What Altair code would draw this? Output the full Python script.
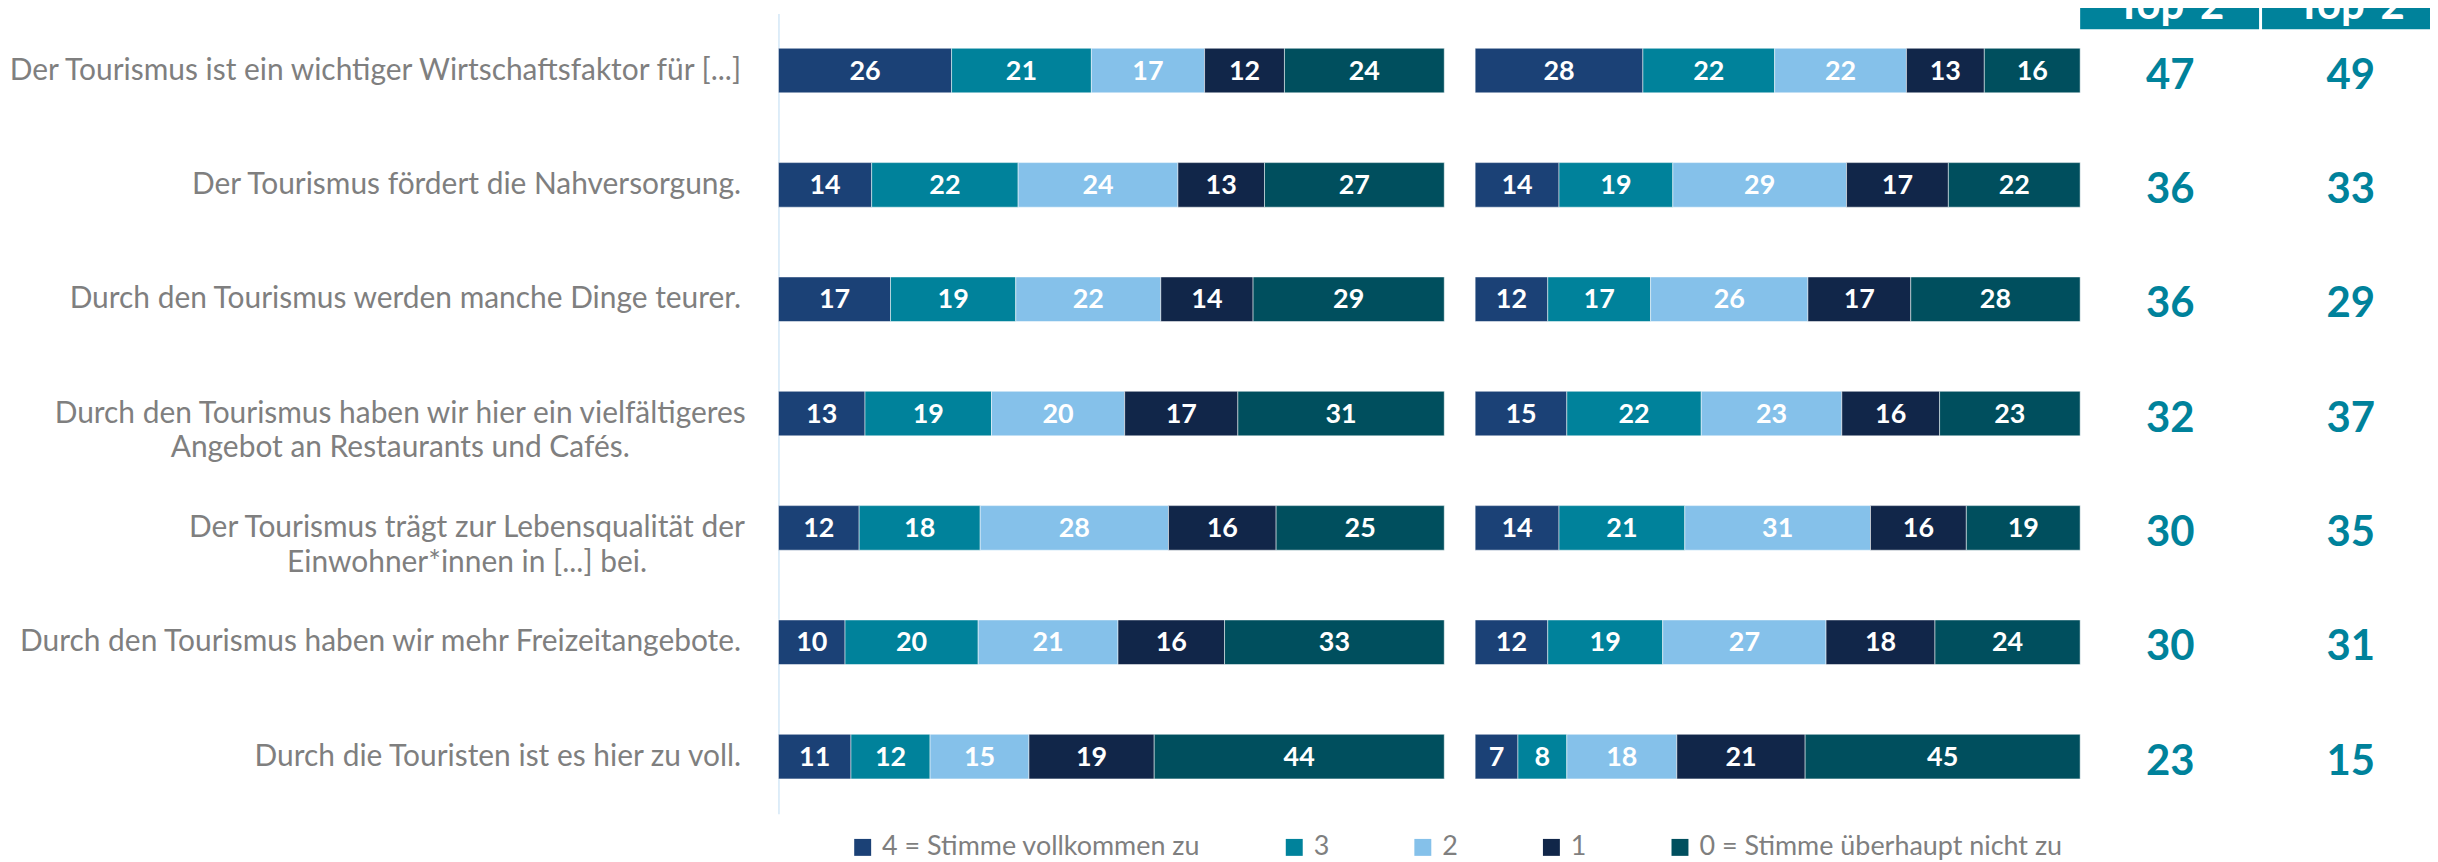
import altair as alt
import pandas as pd

statements = [
    "Der Tourismus ist ein wichtiger Wirtschaftsfaktor für [...]",
    "Der Tourismus fördert die Nahversorgung.",
    "Durch den Tourismus werden manche Dinge teurer.",
    "Durch den Tourismus haben wir hier ein vielfältigeres|Angebot an Restaurants und Cafés.",
    "Der Tourismus trägt zur Lebensqualität der|Einwohner*innen in [...] bei.",
    "Durch den Tourismus haben wir mehr Freizeitangebote.",
    "Durch die Touristen ist es hier zu voll.",
]
levels = ["4 = Stimme vollkommen zu", "3", "2", "1", "0 = Stimme überhaupt nicht zu"]
level_colors = ["#1B4176", "#00829B", "#85C1EA", "#112649", "#004F5E"]

wave1 = [
    [26, 21, 17, 12, 24],
    [14, 22, 24, 13, 27],
    [17, 19, 22, 14, 29],
    [13, 19, 20, 17, 31],
    [12, 18, 28, 16, 25],
    [10, 20, 21, 16, 33],
    [11, 12, 15, 19, 44],
]
wave2 = [
    [28, 22, 22, 13, 16],
    [14, 19, 29, 17, 22],
    [12, 17, 26, 17, 28],
    [15, 22, 23, 16, 23],
    [14, 21, 31, 16, 19],
    [12, 19, 27, 18, 24],
    [7, 8, 18, 21, 45],
]
top2_wave1 = [47, 36, 36, 32, 30, 30, 23]
top2_wave2 = [49, 33, 29, 37, 35, 31, 15]
top2_columns = ["Welle 1", "Welle 2"]
header_label = "Top-2"

FONT = "Lato"
TEAL = "#00829B"
GREY = "#7F7F7F"


def long_df(values):
    rows = []
    for s, vals in zip(statements, values):
        for i, (lvl, v) in enumerate(zip(levels, vals)):
            rows.append({"statement": s, "level": lvl, "order": i, "value": v})
    return pd.DataFrame(rows)


df1 = long_df(wave1)
df2 = long_df(wave2)
top2_df = pd.DataFrame(
    [{"statement": s, "column": top2_columns[0], "value": v} for s, v in zip(statements, top2_wave1)]
    + [{"statement": s, "column": top2_columns[1], "value": v} for s, v in zip(statements, top2_wave2)]
)
header_df = pd.DataFrame({"column": top2_columns, "label": [header_label] * len(top2_columns)})

y_scale = alt.Scale(domain=statements, range=[4, 807], paddingInner=0.61, paddingOuter=0.305)

row4 = statements[3]
row5 = statements[4]

axis_common = dict(
    title=None, orient="left", offset=-773, ticks=False, tickSize=0, grid=False,
    labelFont=FONT, labelFontSize=30, labelColor=GREY, labelLimit=2000,
    labelLineHeight=35,
)
# single-line statements: right aligned next to the axis line
axis_single = alt.Axis(
    **axis_common, domainColor="#D3E7F7", domainWidth=1.5,
    labelExpr="indexof(datum.value, '|') >= 0 ? '' : datum.label",
    labelAlign="right", labelPadding=38,
)
# two-line statements: lines centred on each other
axis_row4 = alt.Axis(
    **axis_common, domain=False,
    labelExpr=f"datum.value == '{row4}' ? split(datum.label, '|') : ''",
    labelAlign="center", labelPadding=380,
)
axis_row5 = alt.Axis(
    **axis_common, domain=False,
    labelExpr=f"datum.value == '{row5}' ? split(datum.label, '|') : ''",
    labelAlign="center", labelPadding=313,
)

color_scale = alt.Scale(domain=levels, range=level_colors)
color_legend = alt.Color(
    "level:N",
    sort=levels,
    scale=color_scale,
    legend=alt.Legend(
        title=None, orient="none", legendX=844, legendY=827, direction="horizontal",
        columns=5, symbolType="square", symbolSize=289, symbolStrokeWidth=0,
        labelFont=FONT, labelFontSize=27, labelColor=GREY, labelLimit=1000,
        columnPadding=80, labelOffset=6, padding=0,
    ),
)
color_plain = alt.Color("level:N", sort=levels, scale=color_scale, legend=None)


def stacked(df):
    return alt.Chart(df).transform_stack(
        stack="value", groupby=["statement"], as_=["x0", "x1"], offset="normalize",
        sort=[alt.SortField("order")],
    ).transform_calculate(mid="(datum.x0 + datum.x1) / 2")


def bar_layer(df, xrange, axis, color):
    xs = alt.Scale(domain=[0, 1], range=xrange, nice=False, zero=False)
    return stacked(df).mark_bar(stroke="white", strokeWidth=1, strokeOpacity=0.5).encode(
        x=alt.X("x0:Q", scale=xs, axis=None),
        x2="x1:Q",
        y=alt.Y("statement:N", sort=statements, scale=y_scale, axis=axis),
        color=color,
    )


def label_layer(df, xrange, axis):
    xs = alt.Scale(domain=[0, 1], range=xrange, nice=False, zero=False)
    return stacked(df).mark_text(color="white", font=FONT, fontSize=27, fontWeight="bold",
                                 baseline="middle", dy=1).encode(
        x=alt.X("mid:Q", scale=xs, axis=None),
        y=alt.Y("statement:N", sort=statements, scale=y_scale, axis=axis),
        text="value:Q",
    )


LEFT = [773, 1441]
RIGHT = [1472, 2079]
left_bars = bar_layer(df1, LEFT, axis_single, color_legend)
left_labels = label_layer(df1, LEFT, axis_row4)
right_bars = bar_layer(df2, RIGHT, axis_row5, color_plain)
right_labels = label_layer(df2, RIGHT, None)

col_scale = alt.Scale(domain=top2_columns, range=[2079, 2441], paddingInner=0.0164, paddingOuter=0)

header_box = alt.Chart(header_df).mark_rect(color=TEAL).encode(
    x=alt.X("column:N", scale=col_scale, axis=None),
    y=alt.value(-30), y2=alt.value(20),
)
header_text = alt.Chart(header_df).mark_text(
    color="white", font=FONT, fontSize=42, fontWeight="bold", baseline="alphabetic"
).encode(
    x=alt.X("column:N", scale=col_scale, axis=None),
    y=alt.value(10),
    text="label:N",
)
top2_text = alt.Chart(top2_df).mark_text(
    color=TEAL, font=FONT, fontSize=42, fontWeight="bold", baseline="middle", dy=5
).encode(
    x=alt.X("column:N", scale=col_scale, axis=None),
    y=alt.Y("statement:N", sort=statements, scale=y_scale, axis=None),
    text="value:Q",
)

chart = alt.layer(
    left_bars, left_labels, right_bars, right_labels, header_box, header_text, top2_text
).resolve_scale(
    x="independent"
).resolve_axis(
    y="independent"
).properties(
    width=2430, height=854, padding=0, autosize=alt.AutoSizeParams(type="none")
).configure(
    font=FONT
).configure_view(stroke=None)

chart.save("out.html", embed_options={"renderer": "svg", "actions": False})
